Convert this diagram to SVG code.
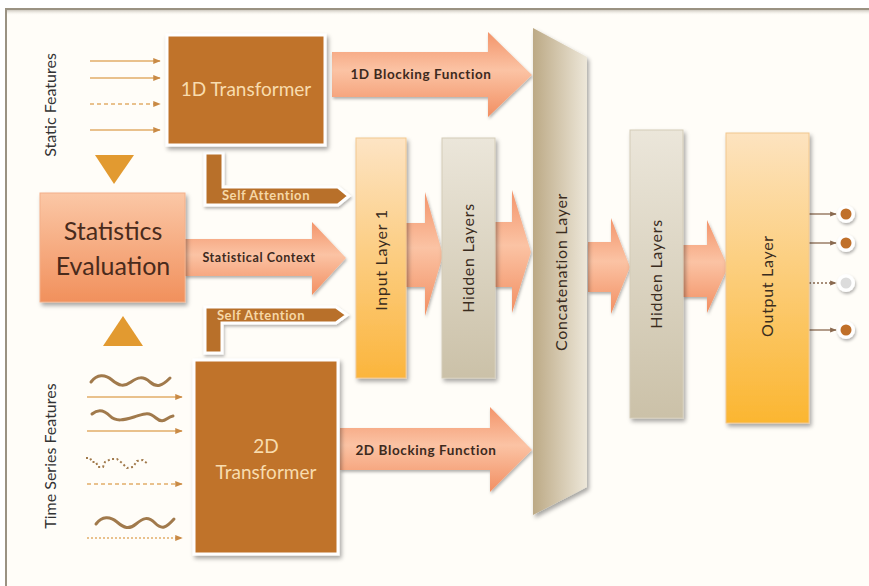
<svg xmlns="http://www.w3.org/2000/svg" width="869" height="586" viewBox="0 0 869 586">
  <defs>
    <filter id="shadow" x="-20%" y="-20%" width="150%" height="150%">
      <feDropShadow dx="2" dy="3" stdDeviation="2" flood-color="#000" flood-opacity="0.35"/>
    </filter>
    <filter id="softshadow" x="-20%" y="-20%" width="150%" height="150%">
      <feDropShadow dx="1" dy="2" stdDeviation="1.5" flood-color="#000" flood-opacity="0.3"/>
    </filter>
    <linearGradient id="peach" x1="0" y1="0" x2="0" y2="1">
      <stop offset="0" stop-color="#f3946a"/>
      <stop offset="0.45" stop-color="#fbc3a4"/>
      <stop offset="1" stop-color="#f28f62"/>
    </linearGradient>
    <linearGradient id="statsFill" x1="0" y1="0" x2="0" y2="1">
      <stop offset="0" stop-color="#fbc7a6"/>
      <stop offset="1" stop-color="#f1905c"/>
    </linearGradient>
    <linearGradient id="inputFill" x1="0" y1="0" x2="0" y2="1">
      <stop offset="0" stop-color="#fde4c4"/>
      <stop offset="1" stop-color="#fbb53c"/>
    </linearGradient>
    <linearGradient id="outputFill" x1="0" y1="0" x2="0" y2="1">
      <stop offset="0" stop-color="#fde3bf"/>
      <stop offset="1" stop-color="#fbb631"/>
    </linearGradient>
    <linearGradient id="hiddenFill" x1="0" y1="0" x2="0" y2="1">
      <stop offset="0" stop-color="#ebe6da"/>
      <stop offset="1" stop-color="#cbc1a8"/>
    </linearGradient>
    <linearGradient id="concatFill" x1="0" y1="0" x2="1" y2="0">
      <stop offset="0" stop-color="#bca985"/>
      <stop offset="1" stop-color="#ede7d9"/>
    </linearGradient>
    <linearGradient id="frameShade" x1="0" y1="0" x2="0" y2="1">
      <stop offset="0" stop-color="#8f8778"/>
      <stop offset="1" stop-color="#e8e3da" stop-opacity="0"/>
    </linearGradient>
    <marker id="tip" viewBox="0 0 10 10" refX="9" refY="5" markerWidth="5" markerHeight="5" orient="auto">
      <path d="M0,1 L10,5 L0,9 z" fill="#c98a45"/>
    </marker>
    <marker id="tipDark" viewBox="0 0 10 10" refX="9" refY="5" markerWidth="5" markerHeight="5" orient="auto">
      <path d="M0,1 L10,5 L0,9 z" fill="#8a6a50"/>
    </marker>
    <style>
      .brown { fill: #c0732b; stroke: #ffffff; stroke-width: 3; filter: url(#shadow); }
      .brownText { font-family: Lato, "Open Sans", sans-serif; fill: #f8dcae; text-anchor: middle; }
      .attn { fill: #b8702a; stroke: #ffffff; stroke-width: 3; filter: url(#softshadow); }
      .attnText { font-family: Lato, "Open Sans", sans-serif; font-size: 13px; letter-spacing: 0.6px; font-weight: bold; fill: #f6d7a6; text-anchor: middle; }
      .bigArrow { fill: url(#peach); filter: url(#softshadow); }
      .arrowText { font-family: Lato, "Open Sans", sans-serif; font-weight: bold; fill: #3d2a1e; text-anchor: middle; letter-spacing: 0.6px; }
      .layerText { font-family: Lato, "Open Sans", sans-serif; font-size: 16px; letter-spacing: 0.7px; fill: #3a2c1e; text-anchor: middle; }
      .sideText { font-family: Lato, "Open Sans", sans-serif; font-size: 16px; fill: #333333; text-anchor: middle; }
      .feat { stroke: #e2ad68; stroke-width: 1.5; fill: none; marker-end: url(#tip); }
      .dash { stroke-dasharray: 4 3; }
      .dot { stroke-dasharray: 2 2; }
      .wave { stroke: #a17a4c; stroke-width: 3; fill: none; stroke-linecap: round; }
      .tri { fill: #e29a30; }
      .outLine { stroke: #8a6a50; stroke-width: 1.3; fill: none; marker-end: url(#tipDark); }
      .ring { fill: #ffffff; filter: url(#softshadow); }
    </style>
  </defs>

  <!-- page frame -->
  <rect x="0" y="0" width="869" height="586" fill="#ffffff"/>
  <rect x="6" y="9" width="863" height="577" fill="#fffdf8"/>
  <rect x="6" y="10" width="863" height="5" fill="url(#frameShade)" opacity="0.45"/>
  <line x1="5" y1="9" x2="869" y2="9" stroke="#9a9282" stroke-width="2"/>
  <line x1="6" y1="9" x2="6" y2="586" stroke="#9a9282" stroke-width="2"/>

  <!-- connectors -->
  <g id="connectors">
    <!-- static feature inputs -->
    <line class="feat" x1="90" y1="61" x2="160" y2="61"/>
    <line class="feat" x1="90" y1="78" x2="160" y2="78"/>
    <line class="feat dash" x1="90" y1="104" x2="160" y2="104"/>
    <line class="feat" x1="90" y1="130" x2="160" y2="130"/>

    <!-- time series inputs -->
    <path class="wave" d="M91,382 C97,374 105,374 112,380 S124,387 131,382 S143,376 150,382 S162,386 170,378"/>
    <line class="feat" x1="87" y1="397" x2="182" y2="397"/>
    <path class="wave" d="M92,414 C98,409 104,410 110,416 S124,420 134,417 S148,411 156,418 S166,417 173,416"/>
    <line class="feat" x1="87" y1="431" x2="182" y2="431"/>
    <path d="M86,458 l4,0 l2,4 l4,0 l2,5 l5,0 l2,-5 l6,-3 l6,0 l5,4 l5,5 l6,-1 l4,-6 l6,-1 l5,4" stroke="#a17a4c" stroke-width="2" fill="none" stroke-dasharray="2 2.5"/>
    <line class="feat dash" x1="87" y1="484" x2="182" y2="484"/>
    <path class="wave" d="M96,524 C102,516 110,516 117,522 S129,530 136,524 S148,516 155,523 S166,528 174,519"/>
    <line class="feat dot" x1="87" y1="538" x2="182" y2="538"/>

    <!-- triangles into the statistics block -->
    <polygon class="tri" points="95,155 134,155 114,184"/>
    <polygon class="tri" points="103,346 143,346 123,316"/>

    <!-- self attention branches -->
    <polygon class="attn" points="205,153 223,153 223,187 338,187 349,196 338,205 205,205"/>
    <text class="attnText" x="266" y="200">Self Attention</text>
    <polygon class="attn" points="205,307 336,307 347,315 336,323 222,323 222,353 205,353"/>
    <text class="attnText" x="261" y="320">Self Attention</text>

    <!-- block arrows with labels -->
    <polygon class="bigArrow" points="332,52 488,52 488,32 532,75 488,117 488,97 332,97"/>
    <text class="arrowText" x="421" y="79" font-size="13.5">1D Blocking Function</text>

    <polygon class="bigArrow" points="185,239 312,239 312,222 346,258 312,295 312,276 185,276"/>
    <text class="arrowText" x="259" y="262" font-size="12.5">Statistical Context</text>

    <polygon class="bigArrow" points="340,428 490,428 490,407 532,450 490,492 490,470 340,470"/>
    <text class="arrowText" x="426" y="455" font-size="13.5">2D Blocking Function</text>

    <!-- arrows between network layers -->
    <polygon class="bigArrow" points="406,223 425,223 425,192 443,255 425,316 425,287 406,287"/>
    <polygon class="bigArrow" points="495,222 512,222 512,190 531,252 512,313 512,287 495,287"/>
    <polygon class="bigArrow" points="588,242 611,242 611,218 630,267 611,314 611,292 588,292"/>
    <polygon class="bigArrow" points="683,245 707,245 707,220 728,267 707,313 707,297 683,297"/>

    <!-- outputs -->
    <line class="outLine" x1="809" y1="214" x2="836" y2="214"/>
    <line class="outLine" x1="809" y1="243" x2="836" y2="243"/>
    <line class="outLine dot" x1="809" y1="283" x2="836" y2="283"/>
    <line class="outLine" x1="809" y1="330" x2="836" y2="330"/>
  </g>

  <!-- side labels -->
  <text class="sideText" transform="translate(56,105) rotate(-90)">Static Features</text>
  <text class="sideText" transform="translate(56,456) rotate(-90)">Time Series Features</text>

  <g id="transformer1d">
    <rect class="brown" x="167" y="35" width="158" height="110"/>
    <text class="brownText" x="246" y="96" font-size="19">1D Transformer</text>
  </g>

  <g id="statistics">
    <rect x="40" y="193" width="145" height="109" fill="url(#statsFill)" stroke="#f3b08a" stroke-width="1" filter="url(#shadow)"/>
    <text x="113" y="240" font-family="Lato, 'Open Sans', sans-serif" font-size="25" fill="#4a2b1c" text-anchor="middle">Statistics</text>
    <text x="113" y="275" font-family="Lato, 'Open Sans', sans-serif" font-size="25" fill="#4a2b1c" text-anchor="middle">Evaluation</text>
  </g>

  <g id="transformer2d">
    <rect class="brown" x="194" y="360" width="144" height="194"/>
    <text class="brownText" x="266" y="453" font-size="19">2D</text>
    <text class="brownText" x="266" y="479" font-size="19">Transformer</text>
  </g>

  <g id="inputLayer">
    <rect x="356" y="138" width="50" height="240" fill="url(#inputFill)" stroke="#f2c890" stroke-width="1" filter="url(#shadow)"/>
    <text class="layerText" transform="translate(387,260) rotate(-90)">Input Layer 1</text>
  </g>

  <g id="hiddenLayers1">
    <rect x="442" y="138" width="53" height="240" fill="url(#hiddenFill)" stroke="#d4ccb8" stroke-width="1" filter="url(#shadow)"/>
    <text class="layerText" transform="translate(474,258) rotate(-90)">Hidden Layers</text>
  </g>

  <g id="concatenation">
    <polygon points="533,28 587,57 587,487 533,515" fill="url(#concatFill)" filter="url(#shadow)"/>
    <text class="layerText" transform="translate(567,272) rotate(-90)">Concatenation Layer</text>
  </g>

  <g id="hiddenLayers2">
    <rect x="630" y="130" width="53" height="288" fill="url(#hiddenFill)" stroke="#d4ccb8" stroke-width="1" filter="url(#shadow)"/>
    <text class="layerText" transform="translate(662,274) rotate(-90)">Hidden Layers</text>
  </g>

  <g id="outputLayer">
    <rect x="726" y="133" width="83" height="290" fill="url(#outputFill)" stroke="#f2c890" stroke-width="1" filter="url(#shadow)"/>
    <text class="layerText" transform="translate(773,286) rotate(-90)">Output Layer</text>
  </g>

  <g id="outputs">
    <circle class="ring" cx="846" cy="214" r="9"/>
    <circle cx="846" cy="214" r="5.5" fill="#c0702a"/>
    <circle class="ring" cx="846" cy="243" r="9"/>
    <circle cx="846" cy="243" r="5.5" fill="#c0702a"/>
    <circle class="ring" cx="846" cy="283" r="9"/>
    <circle cx="846" cy="283" r="5.5" fill="#dcdcdc"/>
    <circle class="ring" cx="846" cy="330" r="9"/>
    <circle cx="846" cy="330" r="5.5" fill="#c0702a"/>
  </g>
</svg>
